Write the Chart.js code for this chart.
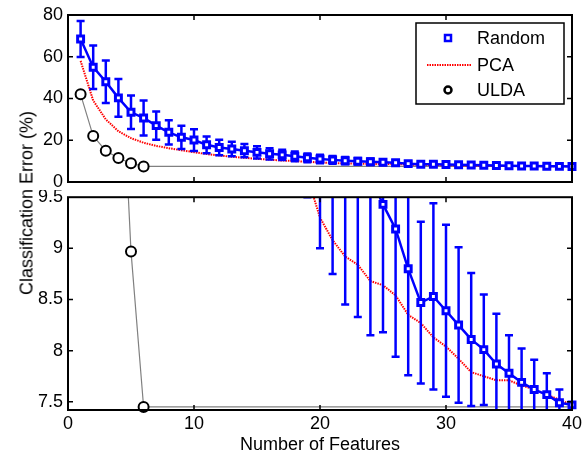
<!DOCTYPE html>
<html>
<head>
<meta charset="utf-8">
<script src="https://cdn.jsdelivr.net/npm/chart.js@4.4.1/dist/chart.umd.min.js"></script>
<style>
  html, body { margin: 0; padding: 0; background: #fff; }
  #wrap { position: relative; width: 584px; height: 460px; overflow: hidden; }
  #top { position: absolute; left: 0; top: 0; }
  #bot { position: absolute; left: 0; top: 190px; }
  #ytitle {
    position: absolute; left: 27px; top: 203px;
    transform: translate(-50%, -50%) rotate(-90deg);
    font: 18px 'Liberation Sans', Arial, sans-serif; color: #000; white-space: nowrap;
  }
</style>
</head>
<body>
<div id="wrap">
  <canvas id="top" width="584" height="190"></canvas>
  <canvas id="bot" width="584" height="270"></canvas>
  <div id="ytitle">Classification Error (%)</div>
</div>
<script>
const features = [1, 2, 3, 4, 5, 6, 7, 8, 9, 10, 11, 12, 13, 14, 15, 16, 17, 18, 19, 20,
  21, 22, 23, 24, 25, 26, 27, 28, 29, 30, 31, 32, 33, 34, 35, 36, 37, 38, 39, 40];

const randomMean = [68.5, 55, 48, 40.3, 33.4, 30.7, 27, 23.8, 21.4, 20.1,
  17.8, 16.5, 15.8, 15.0, 14.2, 13.5, 13.0, 12.3, 11.6, 11.0,
  10.6, 10.2, 9.9, 9.7, 9.43, 9.19, 8.80, 8.47, 8.53, 8.39,
  8.25, 8.11, 8.01, 7.87, 7.78, 7.69, 7.62, 7.57, 7.49, 7.47];

const randomStd = [8.6, 10.4, 10.2, 9.1, 8.0, 8.4, 6.8, 5.8, 5.6, 5.2,
  4.0, 3.7, 3.5, 3.2, 2.9, 2.7, 2.5, 2.3, 2.1, 2.0,
  1.85, 1.75, 1.57, 1.55, 1.25, 1.25, 1.04, 0.79, 0.91, 0.84,
  0.76, 0.65, 0.54, 0.49, 0.37, 0.33, 0.29, 0.21, 0.13, 0.02];

const pcaErr = [58, 39, 30, 24.3, 21, 18.8, 17.3, 16.2, 15.2, 14.3,
  13.4, 12.7, 12.1, 11.6, 11.1, 10.7, 10.3, 10.0, 9.7, 9.3,
  9.08, 8.92, 8.84, 8.68, 8.64, 8.54, 8.35, 8.27, 8.13, 8.04,
  7.92, 7.79, 7.75, 7.71, 7.71, 7.66, 7.62, 7.57, 7.52, 7.47];

const uldaX = [1, 2, 3, 4, 5, 6, 40];
const uldaErr = [42, 22, 15, 11.5, 8.97, 7.45, 7.45];

const xTicks = [0, 10, 20, 30, 40];
const yTicksTop = [0, 20, 40, 60, 80];
const yTicksBottom = [7.5, 8, 8.5, 9, 9.5];

const FONT = "'Liberation Sans', Arial, sans-serif";
Chart.defaults.font.family = FONT;
Chart.defaults.font.size = 18;
Chart.defaults.color = "#000";

function toXY(xs, ys) {
  return xs.map((x, i) => ({ x, y: ys[i] }));
}

// error bars, drawn just before the Random line so markers sit on top
const errorBars = {
  id: "errorBars",
  beforeDatasetDraw(chart, args) {
    const ds = chart.data.datasets[args.index];
    if (!ds.errors) return;
    const { ctx, chartArea: a, scales: { x, y } } = chart;
    ctx.save();
    ctx.beginPath();
    ctx.rect(a.left, a.top, a.right - a.left, a.bottom - a.top);
    ctx.clip();
    ctx.strokeStyle = ds.borderColor;
    ctx.lineWidth = 2.5;
    ds.data.forEach((p, i) => {
      const e = ds.errors[i];
      const px = x.getPixelForValue(p.x);
      const lo = y.getPixelForValue(p.y - e);
      const hi = y.getPixelForValue(p.y + e);
      ctx.beginPath();
      ctx.moveTo(px, lo); ctx.lineTo(px, hi);
      ctx.moveTo(px - 4, lo); ctx.lineTo(px + 4, lo);
      ctx.moveTo(px - 4, hi); ctx.lineTo(px + 4, hi);
      ctx.stroke();
    });
    ctx.restore();
  }
};

// matlab style box with inward ticks
const frame = {
  id: "frame",
  afterDraw(chart, args, opts) {
    const { ctx, chartArea: a, scales: { x, y } } = chart;
    ctx.save();
    ctx.strokeStyle = "#000";
    ctx.lineWidth = 1.5;
    const tl = 5;
    ctx.beginPath();
    opts.xTicks.forEach(v => {
      if (v <= x.min || v >= x.max) return;
      const px = x.getPixelForValue(v);
      ctx.moveTo(px, a.bottom); ctx.lineTo(px, a.bottom - tl);
      ctx.moveTo(px, a.top); ctx.lineTo(px, a.top + tl);
    });
    opts.yTicks.forEach(v => {
      if (v <= y.min || v >= y.max) return;
      const py = y.getPixelForValue(v);
      ctx.moveTo(a.left, py); ctx.lineTo(a.left + tl, py);
      ctx.moveTo(a.right, py); ctx.lineTo(a.right - tl, py);
    });
    ctx.stroke();
    ctx.lineWidth = 2;
    ctx.strokeRect(a.left, a.top, a.right - a.left, a.bottom - a.top);
    ctx.restore();
  }
};

// legend box in the top panel
const legendBox = {
  id: "legendBox",
  afterDraw(chart, args, opts) {
    if (!opts.show) return;
    const ctx = chart.ctx;
    const L = 416, T = 23, R = 564, B = 104;
    ctx.save();
    ctx.fillStyle = "#fff";
    ctx.fillRect(L, T, R - L, B - T);
    ctx.strokeStyle = "#000";
    ctx.lineWidth = 1.5;
    ctx.strokeRect(L, T, R - L, B - T);
    ctx.font = "18px " + FONT;
    ctx.fillStyle = "#000";
    ctx.textBaseline = "middle";
    ctx.textAlign = "left";
    const rows = [38, 65, 90];
    opts.labels.forEach((lab, i) => ctx.fillText(lab, 477, rows[i] + 1));
    // Random marker
    ctx.strokeStyle = "#0000ff";
    ctx.lineWidth = 2.5;
    ctx.strokeRect(445, rows[0] - 3, 6, 6);
    // PCA line
    ctx.strokeStyle = "#ff0000";
    ctx.lineWidth = 2;
    ctx.setLineDash([1.5, 1]);
    ctx.beginPath();
    ctx.moveTo(427, rows[1]); ctx.lineTo(471, rows[1]);
    ctx.stroke();
    ctx.setLineDash([]);
    // ULDA marker
    ctx.strokeStyle = "#000";
    ctx.lineWidth = 2.5;
    ctx.beginPath();
    ctx.arc(448, rows[2], 3.5, 0, Math.PI * 2);
    ctx.stroke();
    ctx.restore();
  }
};

function buildDatasets() {
  return [
    {
      label: "Random",
      data: toXY(features, randomMean),
      errors: randomStd,
      borderColor: "#0000ff",
      backgroundColor: "#ffffff",
      borderWidth: 2.5,
      pointStyle: "rect",
      pointRadius: 4.2,
      pointBorderWidth: 3,
      order: 0
    },
    {
      label: "PCA",
      data: toXY(features, pcaErr),
      borderColor: "#ff0000",
      borderWidth: 2,
      borderDash: [1.5, 1],
      pointRadius: 0,
      order: 1
    },
    {
      label: "ULDA",
      data: toXY(uldaX, uldaErr),
      borderColor: "#808080",
      borderWidth: 1.2,
      pointRadius: ctx => (ctx.dataIndex < 6 ? 5 : 0),
      pointBorderColor: "#000",
      pointBackgroundColor: "#fff",
      pointBorderWidth: 2,
      order: 2
    }
  ];
}

function makeChart(id, opt) {
  return new Chart(document.getElementById(id), {
    type: "line",
    data: { datasets: buildDatasets().map(d => ({ ...d, clip: opt.clip })) },
    options: {
      responsive: false,
      animation: false,
      devicePixelRatio: 1,
      layout: { padding: opt.padding },
      plugins: {
        legend: { display: false },
        tooltip: { enabled: false },
        frame: { xTicks, yTicks: opt.yTicks },
        legendBox: { show: opt.legend, labels: ["Random", "PCA", "ULDA"] }
      },
      scales: {
        x: {
          type: "linear",
          min: 0, max: 40,
          display: opt.showX,
          afterBuildTicks: s => { s.ticks = xTicks.map(v => ({ value: v })); },
          afterFit: s => {
            if (opt.showX) s.height = 50;
            s.paddingLeft = 0; s.paddingRight = 0;
          },
          grid: { display: false, drawTicks: false },
          border: { display: false },
          ticks: { padding: 3, maxRotation: 0, autoSkip: false, callback: v => String(v) },
          title: { display: true, text: "Number of Features", padding: { top: 0, bottom: 4 } }
        },
        y: {
          type: "linear",
          min: opt.yMin, max: opt.yMax,
          afterBuildTicks: s => { s.ticks = opt.yTicks.map(v => ({ value: v })); },
          afterFit: s => {
            s.width = 68;
            // labels may overhang the box, like matlab does
            s.paddingTop = 0; s.paddingBottom = 0;
          },
          grid: { display: false, drawTicks: false },
          border: { display: false },
          ticks: { padding: 5, autoSkip: false, callback: v => String(v) }
        }
      }
    },
    plugins: [errorBars, frame, legendBox]
  });
}

makeChart("top", {
  yMin: 0, yMax: 80, yTicks: yTicksTop, showX: false, legend: true,
  padding: { left: 0, right: 12, top: 15, bottom: 8 },
  clip: { left: 6, right: 6, top: 0, bottom: 0 }
});

makeChart("bot", {
  yMin: 7.42, yMax: 9.5, yTicks: yTicksBottom, showX: true, legend: false,
  padding: { left: 0, right: 12, top: 6, bottom: 0 },
  clip: { left: 6, right: 6, top: 0, bottom: 6 }
});
</script>
</body>
</html>
